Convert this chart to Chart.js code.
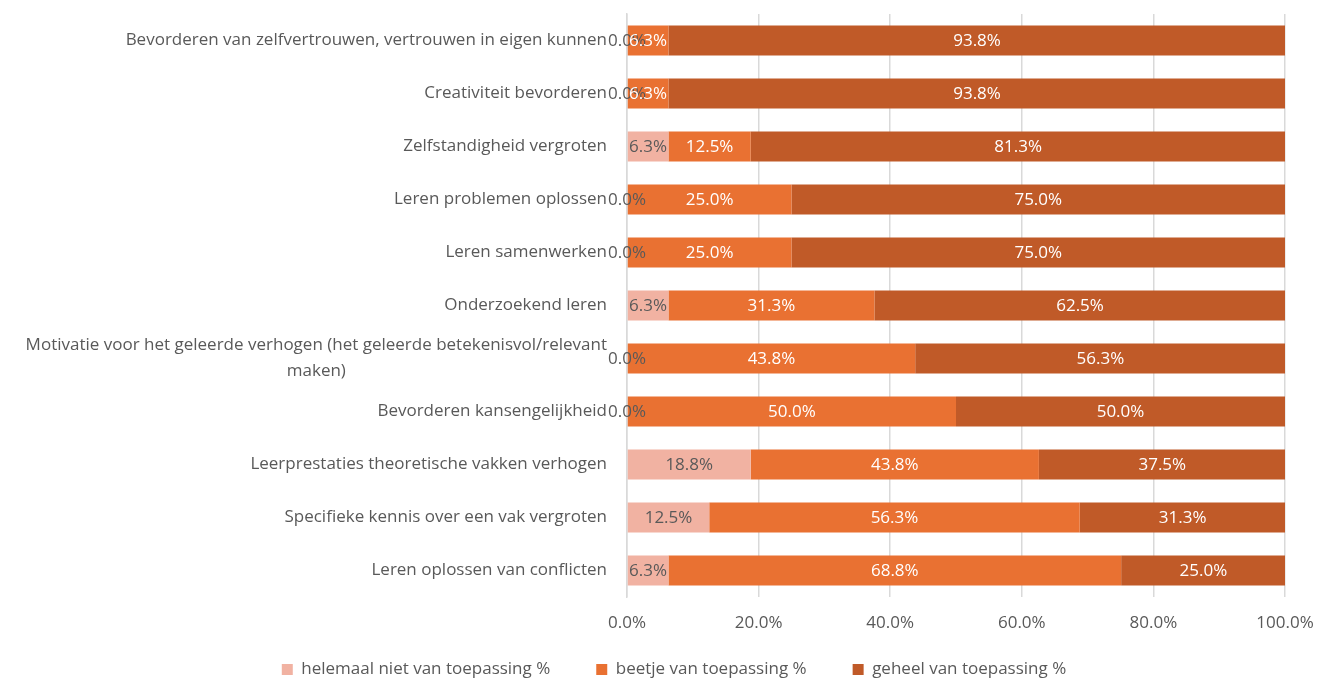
<!DOCTYPE html>
<html>
<head>
<meta charset="utf-8">
<script src="https://cdn.jsdelivr.net/npm/chart.js@4/dist/chart.umd.min.js"></script>
<style>
  html, body { margin: 0; padding: 0; background: #fff; }
  #wrap { width: 1318px; height: 679px; }
</style>
</head>
<body>
<div id="wrap"><canvas id="myChartBar"></canvas></div>
<script>
// data
const categories = [
    'Bevorderen van zelfvertrouwen, vertrouwen in eigen kunnen',
    'Creativiteit bevorderen',
    'Zelfstandigheid vergroten',
    'Leren problemen oplossen',
    'Leren samenwerken',
    'Onderzoekend leren',
    ['Motivatie voor het geleerde verhogen (het geleerde betekenisvol/relevant', 'maken)'],
    'Bevorderen kansengelijkheid',
    'Leerprestaties theoretische vakken verhogen',
    'Specifieke kennis over een vak vergroten',
    'Leren oplossen van conflicten'
];
const helemaalNiet = [0.0, 0.0, 6.3, 0.0, 0.0, 6.3, 0.0, 0.0, 18.8, 12.5, 6.3];
const beetje = [6.3, 6.3, 12.5, 25.0, 25.0, 31.3, 43.8, 50.0, 43.8, 56.3, 68.8];
const geheel = [93.8, 93.8, 81.3, 75.0, 75.0, 62.5, 56.3, 50.0, 37.5, 31.3, 25.0];
const xTicks = [0, 20, 40, 60, 80, 100];

const FONT = "'Open Sans', 'Noto Sans', sans-serif";
const GREY = '#595959';
const LEFT_PAD = 63;
const TICK_PAD = 20;

// own little label plugin (no datalabels available)
const barLabels = {
    id: 'barLabels',
    afterDatasetsDraw(chart) {
        const ctx = chart.ctx;
        ctx.save();
        ctx.font = '17px ' + FONT;
        ctx.textAlign = 'center';
        ctx.textBaseline = 'middle';
        chart.data.datasets.forEach((ds, i) => {
            const meta = chart.getDatasetMeta(i);
            ctx.fillStyle = ds.labelColor;
            meta.data.forEach((bar, j) => {
                const x = (bar.x + bar.base) / 2;
                ctx.fillText(ds.data[j].toFixed(1) + '%', x, bar.y + 1);
            });
        });
        ctx.restore();
    },
    // wrapped category labels: lines centred on each other like Excel does
    afterDraw(chart) {
        const ctx = chart.ctx;
        const yScale = chart.scales.y;
        ctx.save();
        ctx.font = '17px ' + FONT;
        ctx.fillStyle = GREY;
        ctx.textAlign = 'center';
        ctx.textBaseline = 'middle';
        categories.forEach((c, i) => {
            if (!Array.isArray(c)) return;
            const w = Math.max(...c.map(s => ctx.measureText(s).width));
            const cx = yScale.right - TICK_PAD - w / 2;
            const cy = yScale.getPixelForTick(i);
            const lh = 26;
            c.forEach((s, k) => {
                ctx.fillText(s, cx, cy + (k - (c.length - 1) / 2) * lh);
            });
        });
        ctx.restore();
    }
};

const ctx = document.getElementById('myChartBar').getContext('2d');
new Chart(ctx, {
    type: 'bar',
    data: {
        labels: categories,
        datasets: [
            { label: 'helemaal niet van toepassing %', data: helemaalNiet, backgroundColor: '#F1B2A2', labelColor: GREY },
            { label: 'beetje van toepassing %', data: beetje, backgroundColor: '#E97132', labelColor: '#ffffff' },
            { label: 'geheel van toepassing %', data: geheel, backgroundColor: '#C05A28', labelColor: '#ffffff' }
        ]
    },
    options: {
        indexAxis: 'y',
        responsive: true,
        maintainAspectRatio: false,
        animation: false,
        layout: { padding: { top: 14, right: 33, left: LEFT_PAD, bottom: -9 } },
        datasets: { bar: { barPercentage: 0.57, categoryPercentage: 1.0 } },
        scales: {
            x: {
                stacked: true,
                min: 0,
                max: 100,
                afterBuildTicks: (scale) => { scale.ticks = xTicks.map(v => ({ value: v })); },
                afterFit: (scale) => {
                    // short axis box so the legend sits close under the tick labels
                    scale.height = 18;
                    scale.paddingLeft = 0;
                    scale.paddingRight = 0;
                    scale._computeLabelArea = () => undefined; // no clipping of the labels
                },
                grid: { color: '#D9D9D9', lineWidth: 1.5, drawTicks: false },
                border: { display: false },
                ticks: {
                    color: GREY,
                    font: { family: FONT, size: 17 },
                    padding: 16,
                    callback: (v) => v.toFixed(1) + '%'
                }
            },
            y: {
                stacked: true,
                grid: { display: false, drawTicks: false },
                border: { color: '#D9D9D9', width: 1.5 },
                afterFit: (scale) => {
                    scale.width = 627 - LEFT_PAD;
                    scale.paddingTop = 0;
                    scale.paddingBottom = 0;
                    scale._computeLabelArea = () => undefined;
                },
                ticks: {
                    color: GREY,
                    font: { family: FONT, size: 17 },
                    padding: TICK_PAD,
                    callback: (v, i) => Array.isArray(categories[i]) ? '' : categories[i]
                }
            }
        },
        plugins: {
            legend: {
                position: 'bottom',
                labels: {
                    color: GREY,
                    font: { family: FONT, size: 17 },
                    boxWidth: 11,
                    boxHeight: 11,
                    padding: 46
                }
            },
            tooltip: { enabled: false }
        }
    },
    plugins: [barLabels]
});
</script>
</body>
</html>
